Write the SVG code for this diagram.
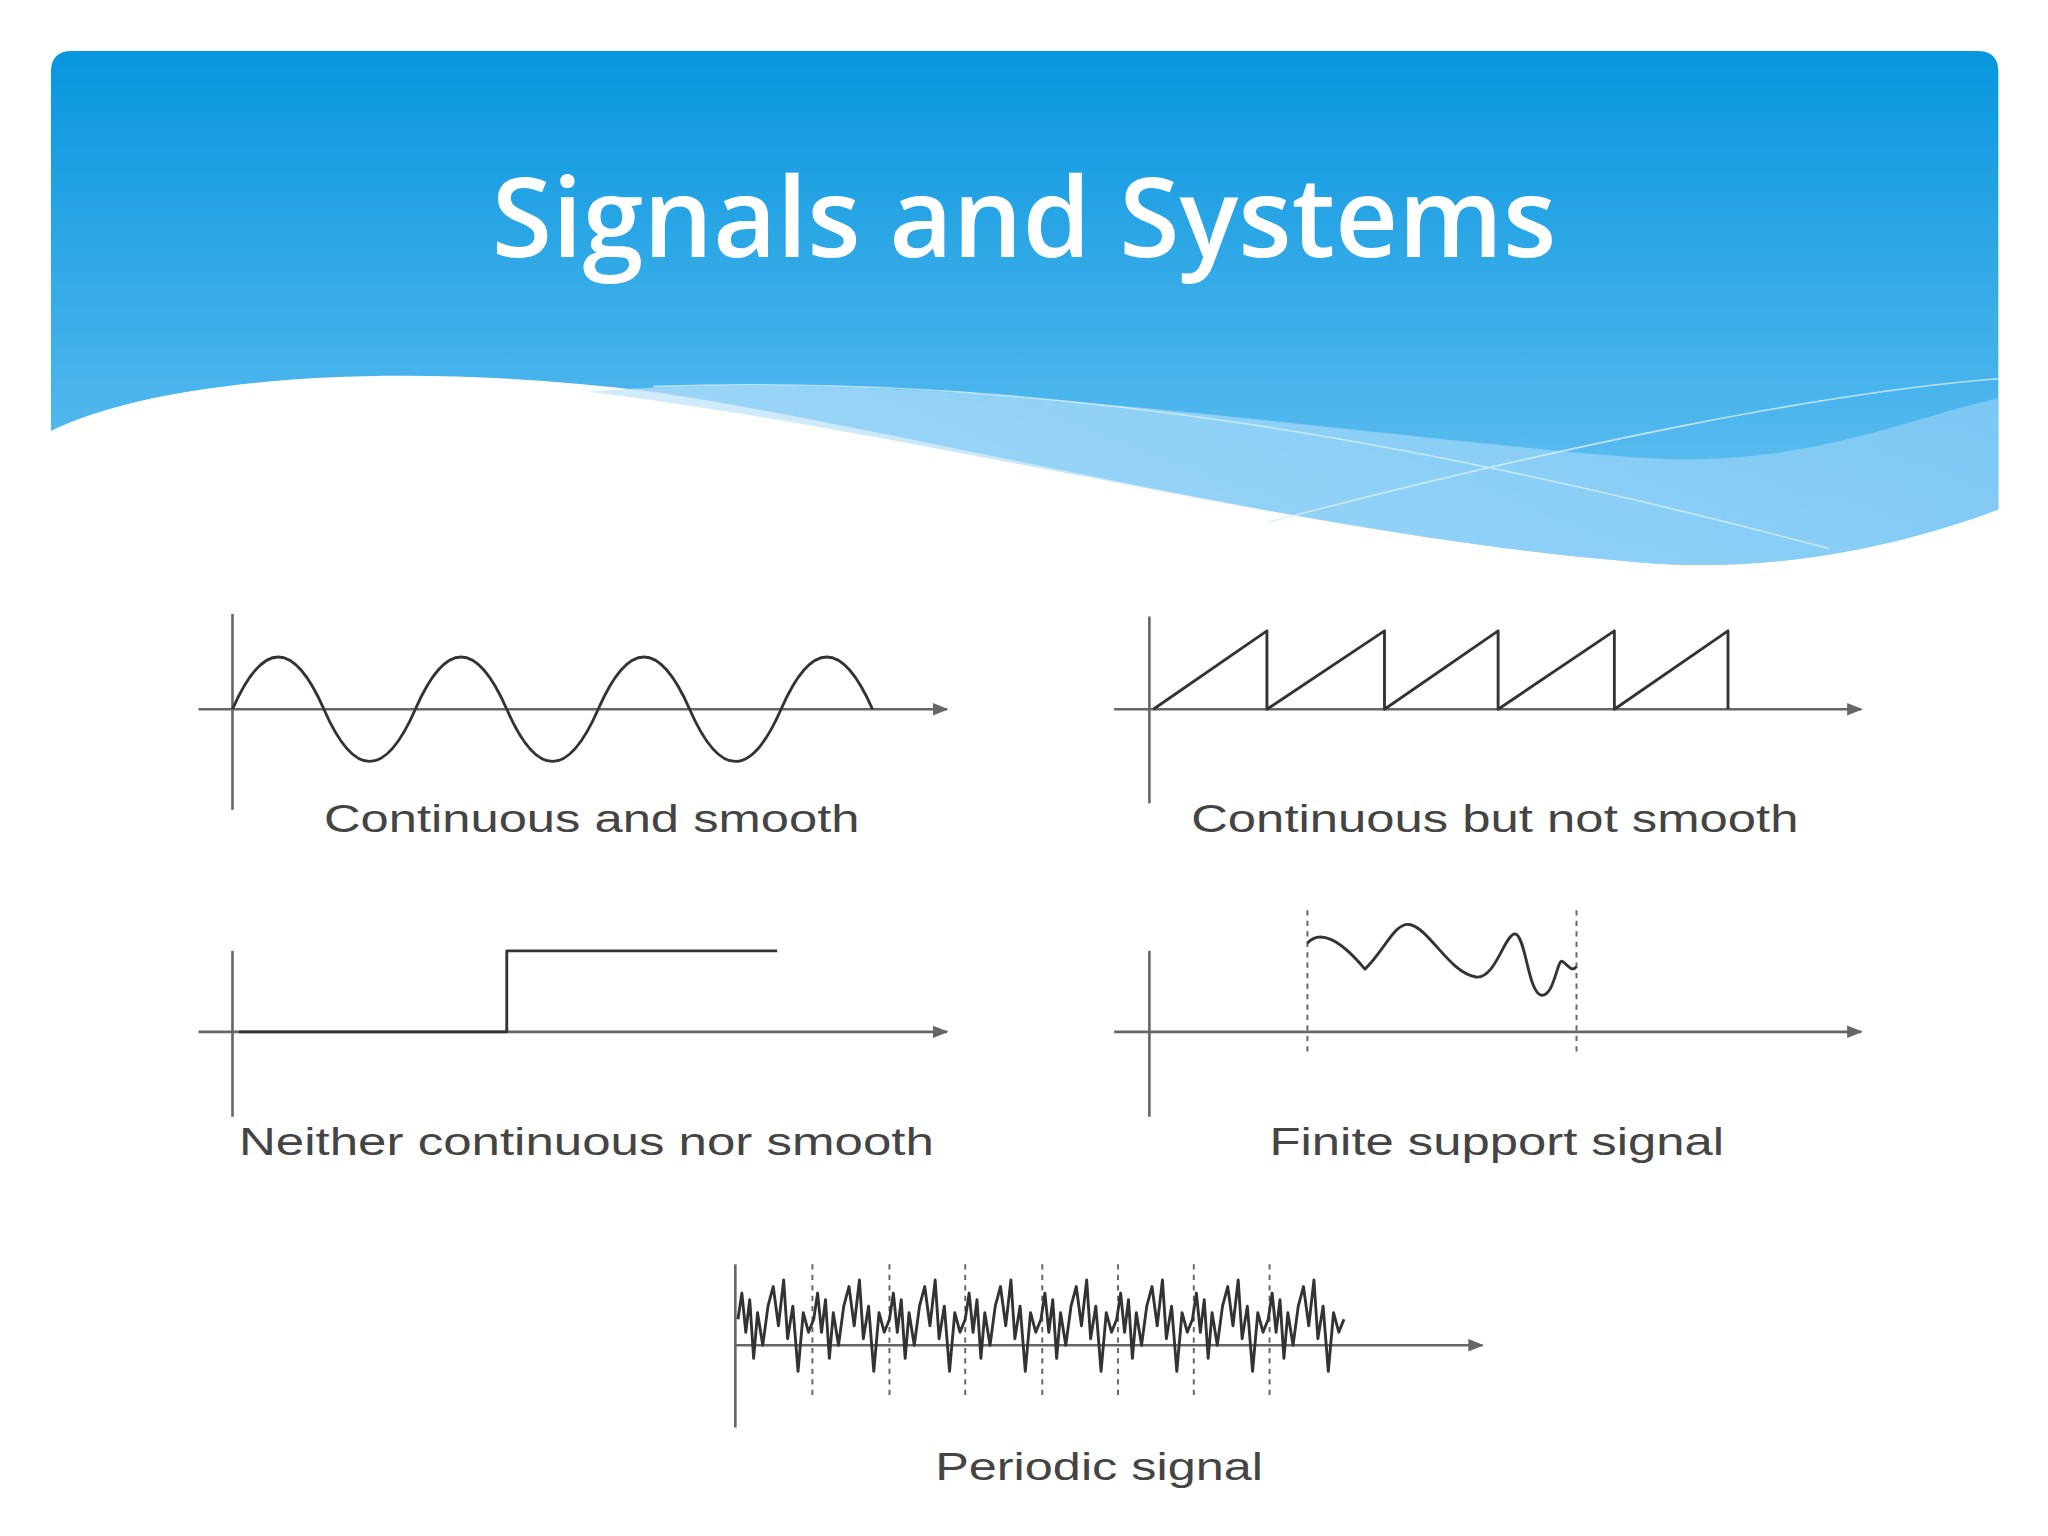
<svg xmlns="http://www.w3.org/2000/svg" width="2048" height="1536" viewBox="0 0 2048 1536">
<defs>
<linearGradient id="hg" x1="0" y1="0" x2="0" y2="1">
<stop offset="0" stop-color="#0796de"/><stop offset="1" stop-color="#6cc3f3"/>
</linearGradient>
<linearGradient id="bg2" x1="0" y1="0" x2="1" y2="0">
<stop offset="0" stop-color="#bfe3fa"/><stop offset="1" stop-color="#8fd0f7"/>
</linearGradient>
<marker id="ar" viewBox="0 0 10 10" refX="9" refY="5" markerWidth="6" markerHeight="6" orient="auto"><path d="M0,1 L10,5 L0,9 z" fill="#666"/></marker>
<style>
.ax{stroke:#666;stroke-width:2;fill:none}
.sg{stroke:#333;stroke-width:2.2;fill:none;stroke-linejoin:round}
.dh{stroke:#666;stroke-width:1.5;stroke-dasharray:4 4;fill:none}
.lb{font-family:"Liberation Sans",Arial,sans-serif;font-size:29px;fill:#444}
</style>
</defs>
<rect width="2048" height="1536" fill="#fff"/>
<g transform="scale(1.30612)">
<g id="header">
<path d="M39,330 L39,55 Q39,39 55,39 L1514,39 Q1530,39 1530,55 L1530,390 C1450,420 1350,440 1250,430 C1000,410 700,330 500,300 C300,275 120,290 39,330 Z" fill="url(#hg)"/>
<path d="M450,300 C700,280 1000,330 1250,350 C1380,360 1460,320 1530,305 L1530,390 C1450,420 1350,440 1250,430 C1000,410 700,330 450,300 Z" fill="url(#bg2)" opacity="0.7"/>
<path d="M500,296 C800,285 1100,340 1400,420 M970,400 C1200,340 1400,300 1530,290" stroke="#d8f0fd" stroke-width="1.2" fill="none" opacity="0.8"/>
<text x="784" y="197" font-family="Open Sans,Liberation Sans,sans-serif" font-weight="600" font-size="84" fill="#fff" text-anchor="middle">Signals and Systems</text>
</g>
<g id="plot1">
<line class="ax" x1="178" y1="470" x2="178" y2="620"/>
<line class="ax" x1="152" y1="543" x2="725" y2="543" marker-end="url(#ar)"/>
<path class="sg" d="M178,543 c23.3,-53.3 46.7,-53.3 70,0 c23.3,53.3 46.7,53.3 70,0 c23.3,-53.3 46.7,-53.3 70,0 c23.3,53.3 46.7,53.3 70,0 c23.3,-53.3 46.7,-53.3 70,0 c23.3,53.3 46.7,53.3 70,0 c23.3,-53.3 46.7,-53.3 70,0"/>
<text class="lb" x="248" y="637" textLength="410" lengthAdjust="spacingAndGlyphs">Continuous and smooth</text>
</g>
<g id="plot2">
<line class="ax" x1="880" y1="472" x2="880" y2="615"/>
<line class="ax" x1="853" y1="543" x2="1425" y2="543" marker-end="url(#ar)"/>
<path class="sg" d="M883,543 L970,483 L970,543 L1060,483 L1060,543 L1147,483 L1147,543 L1236,483 L1236,543 L1323,483 L1323,543"/>
<text class="lb" x="912" y="637" textLength="465" lengthAdjust="spacingAndGlyphs">Continuous but not smooth</text>
</g>
<g id="plot3">
<line class="ax" x1="178" y1="728" x2="178" y2="855"/>
<line class="ax" x1="152" y1="790" x2="725" y2="790" marker-end="url(#ar)"/>
<path class="sg" d="M183,790 L388,790 L388,728 L595,728"/>
<text class="lb" x="183" y="884" textLength="532" lengthAdjust="spacingAndGlyphs">Neither continuous nor smooth</text>
</g>
<g id="plot4">
<line class="ax" x1="880" y1="728" x2="880" y2="855"/>
<line class="ax" x1="853" y1="790" x2="1425" y2="790" marker-end="url(#ar)"/>
<line class="dh" x1="1001" y1="697" x2="1001" y2="805"/>
<line class="dh" x1="1207" y1="697" x2="1207" y2="805"/>
<path class="sg" d="M1001,722 C1010,712 1025,718 1045,742 C1060,728 1068,705 1080,708 C1095,712 1110,745 1130,748 C1145,750 1152,715 1160,715 C1168,716 1170,760 1180,762 C1190,763 1192,735 1196,736 C1200,738 1203,745 1207,740"/>
<text class="lb" x="972" y="884" textLength="348" lengthAdjust="spacingAndGlyphs">Finite support signal</text>
</g>
<g id="plot5">
<line class="ax" x1="563" y1="968" x2="563" y2="1093"/>
<line class="ax" x1="563" y1="1030" x2="1135" y2="1030" marker-end="url(#ar)"/>
<line class="dh" x1="622" y1="968" x2="622" y2="1068"/>
<line class="dh" x1="681" y1="968" x2="681" y2="1068"/>
<line class="dh" x1="739" y1="968" x2="739" y2="1068"/>
<line class="dh" x1="798" y1="968" x2="798" y2="1068"/>
<line class="dh" x1="856" y1="968" x2="856" y2="1068"/>
<line class="dh" x1="914" y1="968" x2="914" y2="1068"/>
<line class="dh" x1="972" y1="968" x2="972" y2="1068"/>
<path class="sg" stroke-width="2.5" d="M565,1010 l3,-20 3,30 3,-25 3,45 3,-35 4,25 4,-30 4,-15 4,30 4,-35 3,45 4,-25 4,50 4,-45 4,15 4,-10 l3,-20 3,30 3,-25 3,45 3,-35 4,25 4,-30 4,-15 4,30 4,-35 3,45 4,-25 4,50 4,-45 4,15 4,-10 l3,-20 3,30 3,-25 3,45 3,-35 4,25 4,-30 4,-15 4,30 4,-35 3,45 4,-25 4,50 4,-45 4,15 4,-10 l3,-20 3,30 3,-25 3,45 3,-35 4,25 4,-30 4,-15 4,30 4,-35 3,45 4,-25 4,50 4,-45 4,15 4,-10 l3,-20 3,30 3,-25 3,45 3,-35 4,25 4,-30 4,-15 4,30 4,-35 3,45 4,-25 4,50 4,-45 4,15 4,-10 l3,-20 3,30 3,-25 3,45 3,-35 4,25 4,-30 4,-15 4,30 4,-35 3,45 4,-25 4,50 4,-45 4,15 4,-10 l3,-20 3,30 3,-25 3,45 3,-35 4,25 4,-30 4,-15 4,30 4,-35 3,45 4,-25 4,50 4,-45 4,15 4,-10 l3,-20 3,30 3,-25 3,45 3,-35 4,25 4,-30 4,-15 4,30 4,-35 3,45 4,-25 4,50 4,-45 4,15 4,-10"/>
<text class="lb" x="716" y="1133" textLength="251" lengthAdjust="spacingAndGlyphs">Periodic signal</text>
</g>
</g>
</svg>
